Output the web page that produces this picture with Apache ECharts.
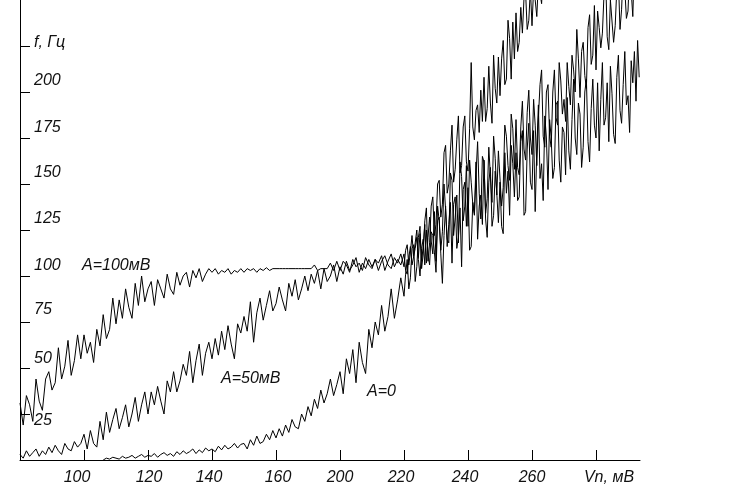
<!DOCTYPE html>
<html><head><meta charset="utf-8">
<script src="https://cdn.jsdelivr.net/npm/echarts@6/dist/echarts.min.js"></script>
<style>html,body{margin:0;padding:0;background:#fff}#c{width:737px;height:491px}</style>
</head><body><div id="c"></div>
<script>
// x grid (Vn, axis units): step 1 up to 199, step 0.5 from 200
const xValues = [80,81,82,83,84,85,86,87,88,89,90,91,92,93,94,95,96,97,98,99,
100,101,102,103,104,105,106,107,108,109,110,111,112,113,114,115,116,117,118,119,
120,121,122,123,124,125,126,127,128,129,130,131,132,133,134,135,136,137,138,139,
140,141,142,143,144,145,146,147,148,149,150,151,152,153,154,155,156,157,158,159,
160,161,162,163,164,165,166,167,168,169,170,171,172,173,174,175,176,177,178,179,
180,181,182,183,184,185,186,187,188,189,190,191,192,193,194,195,196,197,198,199,
200,200.5,201,201.5,202,202.5,203,203.5,204,204.5,205,205.5,206,206.5,207,207.5,208,208.5,209,209.5,
210,210.5,211,211.5,212,212.5,213,213.5,214,214.5,215,215.5,216,216.5,217,217.5,218,218.5,219,219.5,
220,220.5,221,221.5,222,222.5,223,223.5,224,224.5,225,225.5,226,226.5,227,227.5,228,228.5,229,229.5,
230,230.5,231,231.5,232,232.5,233,233.5,234,234.5,235,235.5,236,236.5,237,237.5,238,238.5,239,239.5,
240,240.5,241,241.5,242,242.5,243,243.5,244,244.5,245,245.5,246,246.5,247,247.5,248,248.5,249,249.5,
250,250.5,251,251.5,252,252.5,253,253.5,254,254.5,255,255.5,256,256.5,257,257.5,258,258.5,259,259.5,
260,260.5,261,261.5,262,262.5,263,263.5,264,264.5,265,265.5,266,266.5,267,267.5,268,268.5,269,269.5,
270,270.5,271,271.5,272,272.5,273,273.5];

// f, Hz for A = 100 mV
const fA100 = [31,19,35,30,21,44,32,27,44,48,
38,42,61,44,51,65,46,54,68,55,
68,58,64,53,71,62,79,66,71,88,
74,87,77,93,83,77,96,84,100,86,
93,97,84,98,93,88,101,93,90,102,
95,100,102,94,103,99,104,97,101,104,
102,104,101,103,102,104,101,103,102,104,
102,104,103,104,102,104,103,104.5,103,104,
104,104,104,104,104,104,104,104,104,104,
104,104,106,103,104,104,104,107,103,108,
103,108,106,102,109,105,107,103,110,106,
104,109,107,111,103,108,112,105,109,106,
112,103,101,110,116,106,107,115,121,109,
100,115,120,106,125,112,106,124,122,113,
102,130,132,112,96,122,138,116,128,140,
107,139,143,115,121,137,105,147,151,127,
148,114,116,140,134,162,120,138,144,128,
163,131,121,151,159,127,133,157,145,129,
151,127,123,167,145,157,133,171,161,143,
167,141,143,173,179,133,135,169,183,151,
147,179,135,169,193,153,161,141,187,175,
147,185,175,153,159,193,195,163,151,181,
178,155,197,168,158,185,207,175,166,194,
188,159,170,200,207,173,162,191,207,182,
175,205,168,196,216,182,186,205,173,214,
199,177,172,208,220,190,183,204,222,193,
198,178,217,205,222,195,228,208];

// f, Hz for A = 50 mV
const fA50 = [3,1,5,2,4,6,2,5,3,7,
4,8,5,3,9,6,5,10,7,9,
14,6,16,9,7,21,11,26,15,22,
28,17,23,30,18,25,34,21,30,37,
25,37,30,40,32,25,43,37,48,37,
43,52,46,59,42,54,63,46,58,64,
55,66,57,70,60,73,63,55,74,69,
78,70,86,64,80,88,76,84,92,81,
85,94,87,81,96,89,98,87,93,100,
92,101,96,103,93,104,97,100,106,97,
105,101,108,103,106,110,102,107,104,109,
105,109,103,108,111,106,104,110,107,112,
105,114,117,106,113,122,111,118,125,110,
123,108,116,128,107,121,132,119,112,135,
108,138,130,114,124,150,136,120,118,156,
152,122,132,144,118,162,154,130,138,160,
127,163,151,139,133,155,173,145,131,165,
162,134,142,170,154,140,176,164,144,168,
168,138,148,182,176,160,152,188,180,158,
185,159,155,181,195,169,163,189,201,175,
166,196,182,160,186,204,212,176,170,200,
204,176,170,200,212,186,182,216,206,188,
196,184,216,203,193,220,212,200,234,218,
197,222,227,209,202,235,242,215,220,247,
212,244,235,224,232,253,264,230,223,250,
251,227,236,256,261,234,245,267,256,240,
244,266,255,241,270,259,250,273];

// f, Hz for A = 0
const fA0 = [null,null,null,null,null,null,null,null,null,null,
null,null,null,null,null,null,null,null,null,null,
null,null,null,null,null,null,0,1,0.5,1.5,
1,0.5,2,1,1.5,2.5,1,2,3,1.5,
2.5,2,3.5,1.5,3,4,2.5,3.5,2,4.5,
3,5,3.5,4.5,6,3.5,5.5,4,6.5,5,
6,4.5,7.5,5.5,8,6,7,9,6.5,8.5,
9,6,11,8,13,9,10,14,11,16,
12,17,13,19,15,22,18,17,25,21,
29,24,33,28,38,31,36,44,35,41,
48,36,55,47,60,42,64,53,47,71,
61,75,68,84,70,78,93,77,87,99,
89,101,109,93,99,115,117,97,105,121,
127,104,112,130,137,108,118,138,143,122,
128,150,152,132,139,167,171,145,150,168,
182,151,158,174,187,156,160,181,187,162,
157,180,216,181,174,190,193,178,201,184,
208,184,191,214,194,183,220,202,194,219,
198,218,228,204,207,239,229,207,238,218,
243,222,227,246,232,251,254,234,239,256,
236,256,250,241,260,254,248,266,258,263,270,262,268];

const xTickValues = [100,120,140,160,180,200,220,240,260];
const xTickLabels = ['100','120','140','160','200','220','240','260','Vn, мВ'];
const yTickValues = [25,50,75,100,125,150,175,200,225];
const yTickLabels = ['25','50','75','100','125','150','175','200','f, Гц'];
const curveLabels = ['A=100мВ','A=50мВ','A=0'];

function pairs(ys){
  const out = [];
  for (let i = 0; i < ys.length; i++) if (ys[i] !== null) out.push([xValues[i], ys[i]]);
  return out;
}

const FONT = '"Liberation Sans", Arial, sans-serif';
const base = {fontStyle:'italic', fontSize:16, fontFamily:FONT, color:'#111'};
// small per-label nudges (px) to mimic original placement
const xShift = [-7,1,-3,2,0,-3,-3,0,13];
const yUp = [-6.5,9.5,12,10.5,11.5,11,10.5,11,3];
const xRich = {}, yRich = {};
xShift.forEach((s,i)=>{ xRich['x'+i] = Object.assign({padding:[0, s<0?-2*s:0, 0, s>0?2*s:0]}, base); });
yUp.forEach((s,i)=>{ yRich['y'+i] = Object.assign({padding:[s<0?-2*s:0, 0, s>0?2*s:0, 0]}, base); });

const chart = echarts.init(document.getElementById('c'), null, {renderer:'canvas'});
chart.setOption({
  animation:false,
  backgroundColor:'#fff',
  grid:{left:20,right:97,top:0,bottom:31,containLabel:false},
  xAxis:{type:'value',min:80,max:273.75,interval:20,
    axisLine:{show:true,onZero:false,lineStyle:{color:'#000',width:1}},
    axisTick:{show:true,inside:true,length:10,customValues:xTickValues,lineStyle:{color:'#000',width:1}},
    axisLabel:Object.assign({customValues:xTickValues, margin:10, rich:xRich,
      formatter:v=>{const i=xTickValues.indexOf(v); return i<0?'':'{x'+i+'|'+xTickLabels[i]+'}';}}, base),
    splitLine:{show:false}},
  yAxis:{type:'value',min:0,max:250,interval:25,
    axisLine:{show:true,onZero:false,lineStyle:{color:'#000',width:1}},
    axisTick:{show:true,inside:true,length:10,customValues:yTickValues,lineStyle:{color:'#000',width:1}},
    axisLabel:Object.assign({inside:true, margin:14, customValues:yTickValues, rich:yRich,
      formatter:v=>{const i=yTickValues.indexOf(v); return i<0?'':'{y'+i+'|'+yTickLabels[i]+'}';}}, base),
    splitLine:{show:false}},
  graphic:[
    {type:'text', x:82, y:265.5, silent:true, style:{text:curveLabels[0], font:'italic 16px '+FONT, fill:'#111', verticalAlign:'middle'}},
    {type:'text', x:221, y:379, silent:true, style:{text:curveLabels[1], font:'italic 16px '+FONT, fill:'#111', verticalAlign:'middle'}},
    {type:'text', x:367, y:391.5, silent:true, style:{text:curveLabels[2], font:'italic 16px '+FONT, fill:'#111', verticalAlign:'middle'}}
  ],
  series:[
    {type:'line', name:curveLabels[0], data:pairs(fA100), symbol:'none', silent:true, clip:true, lineStyle:{color:'#000',width:1}},
    {type:'line', name:curveLabels[1], data:pairs(fA50), symbol:'none', silent:true, clip:true, lineStyle:{color:'#000',width:1}},
    {type:'line', name:curveLabels[2], data:pairs(fA0), symbol:'none', silent:true, clip:true, lineStyle:{color:'#000',width:1}}
  ]
});
</script></body></html>
